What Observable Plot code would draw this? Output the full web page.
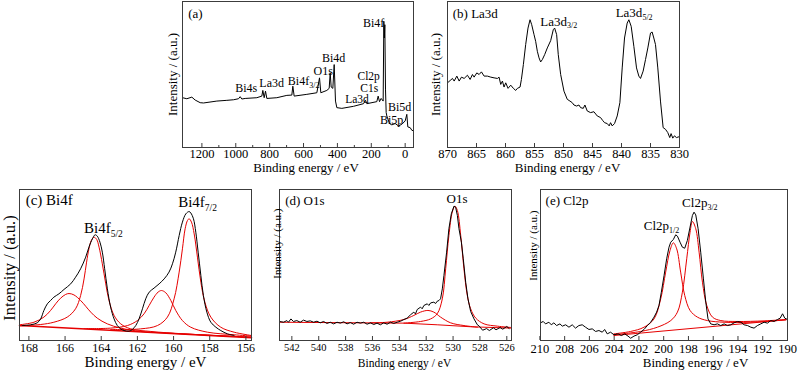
<!DOCTYPE html>
<html><head><meta charset="utf-8">
<script src="https://cdn.jsdelivr.net/npm/d3@7"></script>
<script src="https://cdn.jsdelivr.net/npm/@observablehq/plot@0.6"></script>
<style>
body{margin:0;background:#fff;}
#wrap{position:relative;width:800px;height:374px;overflow:hidden;background:#fff;}
#wrap>div{position:absolute;}
#wrap svg{overflow:visible;background:transparent;font-family:"Liberation Serif","Times New Roman",serif !important;}
#wrap svg text, #wrap svg tspan{font-family:"Liberation Serif","Times New Roman",serif !important;font-weight:normal;}
</style></head><body><div id="wrap"></div>
<script>
// ---------- (a) survey ----------
const surveySpectrum = [[1314.5,34.1],[1288.9,33.4],[1259.3,34.5],[1239.7,32.5],[1210.2,30.7],[1190.5,30.5],[1111.8,31.8],[1052.7,32.3],[1013.4,32.7],[983.9,33.4],[974.0,34.8],[964.2,33.2],[944.5,33.6],[875.6,34.1],[846.1,35.2],[840.2,39.1],[832.3,34.1],[824.5,38.6],[816.6,33.6],[757.6,34.1],[698.5,35.7],[669.0,35.9],[663.1,42.0],[655.3,35.2],[580.5,36.4],[521.4,37.5],[505.7,47.7],[497.8,37.5],[462.4,39.1],[448.6,40.5],[442.7,51.1],[436.8,41.4],[427.0,40.5],[419.1,56.8],[411.3,31.8],[403.4,27.3],[373.9,26.8],[305.0,28.2],[246.0,30.0],[234.2,32.3],[226.3,30.0],[167.3,31.4],[159.4,35.2],[151.5,31.4],[141.7,33.6],[129.9,31.8],[125.9,86.4],[123.0,75.0],[120.0,84.1],[116.1,40.0],[112.2,24.0],[108.2,21.6],[92.5,16.4],[78.7,15.5],[59.0,16.4],[39.4,14.8],[19.7,15.9],[0,18.2],[-9.8,22.7],[-15.7,14.1],[-29.5,13.6],[-39.4,11.8],[-49.2,11.4]];
const surveyTicks = [1200,1000,800,600,400,200,0];
const surveyMinor = [1100,900,700,500,300,100];
const surveyLabels = [{t:"(a)",x:1281,y:91.4,a:"start",f:13},{t:"Bi4s",x:938.6,y:40.8},{t:"La3d",x:788,y:44.2},{t:"O1s",x:484,y:52.4},{t:"Bi4d",x:422,y:61.2},{t:"Bi4f",x:186,y:85},{t:"Cl2p",x:215.5,y:48.6,f:11.5},{t:"C1s",x:212.5,y:40.2,f:11.5},{t:"La3d",x:284,y:33.2,f:11.5},{t:"Bi5d",x:32.5,y:27.9},{t:"Bi5p",x:79.7,y:19}];
const surveySubLabels = [{t:"Bi4f",s:"3/2",x:566.7,y:45.6}];

// ---------- (b) La3d ----------
const la3dSpectrum = [[870.0,44.3],[869.54,45.9],[869.14,47.3],[868.85,45.5],[868.39,48.9],[867.99,45.5],[867.59,48.2],[867.13,47.3],[866.56,49.5],[866.10,46.6],[865.70,50.0],[865.41,48.2],[864.95,51.1],[864.55,50.0],[864.15,51.8],[863.69,48.9],[863.12,48.9],[862.54,48.2],[861.97,47.7],[861.39,47.3],[861.11,48.2],[860.82,43.2],[860.53,45.5],[860.25,41.4],[859.96,44.3],[859.56,40.5],[859.10,42.7],[858.64,40.5],[858.24,39.1],[857.95,40.5],[857.49,41.4],[857.26,46.6],[856.92,56.8],[856.52,70.5],[856.12,81.8],[855.77,87.5],[855.48,84.1],[855.08,77.3],[854.80,72.7],[854.51,65.9],[854.22,61.4],[853.94,58.6],[853.65,60.2],[853.25,63.6],[852.79,68.2],[852.21,73.2],[851.76,80.7],[851.53,81.8],[851.18,77.3],[850.90,63.6],[850.49,50.0],[849.92,38.6],[849.35,33.0],[848.89,31.8],[848.49,30.7],[848.20,29.1],[847.74,28.4],[847.34,29.1],[847.05,27.3],[846.59,26.8],[846.31,29.1],[845.90,25.0],[845.33,23.9],[844.76,24.5],[844.18,21.6],[843.61,20.5],[843.26,18.6],[842.92,17.0],[842.46,16.4],[842.12,14.8],[841.89,17.0],[841.60,14.8],[841.20,16.4],[840.74,21.6],[840.28,30.7],[839.88,54.5],[839.48,75.0],[839.02,85.2],[838.73,87.5],[838.33,83.0],[837.87,69.3],[837.41,54.5],[837.01,48.9],[836.72,47.3],[836.27,52.3],[835.86,60.2],[835.46,68.2],[835.00,78.4],[834.72,79.1],[834.43,75.0],[834.14,70.5],[833.74,54.5],[833.28,31.8],[832.82,13.6],[832.42,12.5],[832.02,10.2],[831.68,6.8],[831.45,9.5],[831.16,6.4],[830.87,8.0],[830.53,6.8],[830.13,7.3]];
const la3dTicks = [870,865,860,855,850,845,840,835,830];
const la3dLabels = [{t:"(b) La3d",x:869.1,y:91.8,a:"start",f:13}];
const la3dSubLabels = [{t:"La3d",s:"3/2",x:849.4,y:86.4},{t:"La3d",s:"5/2",x:836.4,y:92.5}];

// ---------- (c) Bi4f ----------
const bi4fExp = [[168.37,9.9],[167.91,10.4],[167.54,11.7],[167.35,14.3],[167.17,19.9],[166.98,24.3],[166.80,26.5],[166.62,28.7],[166.34,30.9],[166.06,33.8],[165.69,37.5],[165.42,41.9],[165.14,47.5],[164.86,55.2],[164.68,61.8],[164.49,67.3],[164.34,70.0],[164.22,69.1],[164.07,65.1],[163.94,58.5],[163.81,47.5],[163.66,34.2],[163.48,22.1],[163.29,14.3],[163.11,9.9],[162.92,7.7],[162.74,6.6],[162.46,6.2],[162.28,7.3],[162.09,9.9],[161.91,14.3],[161.72,21.0],[161.54,27.6],[161.35,32.0],[161.08,34.7],[160.80,37.5],[160.52,40.8],[160.25,45.3],[160.06,50.8],[159.88,58.5],[159.69,69.5],[159.51,78.4],[159.32,83.9],[159.14,85.4],[159.05,84.5],[158.90,80.6],[158.77,71.7],[158.64,58.5],[158.49,43.0],[158.35,29.8],[158.16,18.8],[157.94,12.1],[157.66,8.8],[157.39,6.6],[157.02,4.4],[156.65,3.3]];
const bi4fBackground = [[168.52,9.9],[155.69,1.8]];
const bi4fSat52 = [[168.52,10.4],[167.72,12.1],[167.17,15.5],[166.80,19.9],[166.52,24.3],[166.25,28.0],[165.97,30.5],[165.78,31.1],[165.51,30.2],[165.14,26.5],[164.86,22.7],[164.58,18.8],[164.22,14.8],[163.66,11.0],[162.92,8.2],[161.82,6.0],[160.34,4.9],[158.49,3.8],[155.69,2.2]];
const bi4fMain52 = [[168.52,9.7],[167.35,10.6],[166.62,12.1],[165.88,15.5],[165.42,21.0],[165.14,29.8],[164.95,40.8],[164.81,51.9],[164.68,60.7],[164.55,66.2],[164.40,68.4],[164.25,66.9],[164.12,61.8],[163.94,50.8],[163.75,37.5],[163.57,26.5],[163.29,16.6],[162.92,11.0],[162.37,7.7],[161.26,6.0],[159.42,4.4],[155.69,2.2]];
const bi4fSat72 = [[164.95,7.9],[163.48,8.2],[162.55,9.9],[162.00,13.2],[161.63,17.7],[161.35,23.2],[161.08,28.7],[160.86,32.0],[160.67,33.1],[160.43,31.6],[160.15,26.5],[159.88,19.9],[159.51,13.2],[159.05,8.8],[158.12,5.5],[156.65,3.8],[155.69,2.9]];
const bi4fMain72 = [[163.48,7.3],[161.82,7.7],[160.89,9.9],[160.34,15.5],[159.97,27.6],[159.69,45.3],[159.51,60.7],[159.36,74.0],[159.23,79.5],[159.14,80.6],[159.01,78.4],[158.86,70.6],[158.68,55.2],[158.49,38.6],[158.27,25.4],[157.94,15.5],[157.39,8.8],[156.65,5.5],[155.69,3.3]];
const bi4fTicks = [168,166,164,162,160,158,156];
const bi4fLabels = [{t:"(c) Bi4f",x:168.18,y:92.7,a:"start",f:15}];
const bi4fSubLabels = [{t:"Bi4f",s:"5/2",x:163.48,y:74.2},{t:"Bi4f",s:"7/2",x:158.27,y:91.4}];

// ---------- (d) O1s ----------
const o1sExp = [[542.92,12.6],[542.62,12.1],[542.37,13.2],[542.25,12.1],[542.07,14.3],[541.88,12.6],[541.63,13.2],[541.38,12.1],[541.13,13.5],[540.88,12.6],[540.63,13.0],[540.38,12.1],[540.13,12.8],[539.89,11.7],[539.64,12.6],[539.39,11.3],[539.14,12.1],[538.89,11.0],[538.64,12.1],[538.39,11.5],[538.14,12.4],[537.89,11.0],[537.65,11.9],[537.40,10.8],[537.15,12.1],[536.90,11.5],[536.65,12.1],[536.40,10.8],[536.15,11.7],[535.90,10.6],[535.66,11.5],[535.41,10.4],[535.16,11.7],[534.91,10.8],[534.66,12.1],[534.41,11.3],[534.16,12.1],[533.90,12.8],[533.66,13.9],[533.42,14.8],[533.17,17.0],[532.92,18.8],[532.80,17.6],[532.67,20.5],[532.42,22.1],[532.30,21.0],[532.17,23.2],[531.92,24.3],[531.80,23.2],[531.67,24.9],[531.43,25.4],[531.30,24.5],[531.18,26.0],[531.05,26.5],[530.93,27.6],[530.80,34.2],[530.68,43.0],[530.48,58.5],[530.31,74.0],[530.13,83.9],[529.93,89.0],[529.81,88.3],[529.68,82.8],[529.56,74.0],[529.38,65.1],[529.24,54.1],[529.06,38.6],[528.89,27.6],[528.69,19.2],[528.44,14.3],[528.19,10.4],[528.05,9.5],[527.80,6.8],[527.50,7.9],[527.30,6.6],[527.00,8.4],[526.80,7.1],[526.50,8.6],[526.30,7.5],[526.00,9.3],[525.83,8.0]];
const o1sBackground = [[542.92,12.1],[533.66,11.5],[531.18,10.4],[528.69,9.1],[525.65,8.2]];
const o1sOH = [[536.15,11.7],[534.91,12.1],[533.66,13.9],[532.92,16.6],[532.42,18.8],[531.87,19.9],[531.43,18.8],[530.93,15.5],[530.18,11.7],[529.19,9.9],[528.19,8.8]];
const o1sLattice = [[533.66,11.5],[532.42,12.6],[531.67,14.3],[531.18,17.7],[530.80,27.6],[530.55,47.5],[530.31,69.5],[530.06,85.0],[529.86,89.0],[529.68,86.1],[529.43,69.5],[529.19,47.5],[528.94,29.8],[528.69,21.0],[528.31,14.8],[527.69,11.0],[526.70,9.5],[525.65,8.6]];
const o1sTicks = [542,540,538,536,534,532,530,528,526];
const o1sLabels = [{t:"(d) O1s",x:542.5,y:92.7,a:"start",f:13},{t:"O1s",x:529.7,y:94,f:13}];

// ---------- (e) Cl2p ----------
const cl2pExp = [[209.95,11.7],[209.73,12.6],[209.54,11.0],[209.27,12.1],[209.08,10.4],[208.87,11.7],[208.65,9.9],[208.38,11.0],[208.19,9.5],[207.92,10.4],[207.65,8.8],[207.39,10.4],[207.12,8.2],[206.85,9.9],[206.58,10.4],[206.31,8.8],[206.04,7.3],[205.77,7.7],[205.50,6.0],[205.23,6.6],[204.96,5.5],[204.77,7.3],[204.56,4.4],[204.29,5.5],[204.02,3.8],[203.69,4.4],[203.42,3.3],[203.15,4.4],[202.88,2.9],[202.67,1.5],[202.40,2.9],[202.13,3.8],[201.86,5.5],[201.59,7.3],[201.32,9.9],[201.05,12.1],[200.78,15.5],[200.57,18.8],[200.38,23.2],[200.19,32.0],[199.97,43.0],[199.76,54.1],[199.57,61.8],[199.43,65.1],[199.22,66.9],[199.03,70.0],[198.89,69.1],[198.68,65.1],[198.49,61.8],[198.30,61.1],[198.09,66.2],[197.87,75.1],[197.68,82.8],[197.55,85.0],[197.41,83.2],[197.22,74.0],[197.01,58.5],[196.79,40.8],[196.60,25.4],[196.42,14.3],[196.20,11.0],[195.93,10.4],[195.66,11.0],[195.39,9.9],[195.12,11.0],[194.85,9.9],[194.58,10.4],[194.31,11.7],[194.04,12.6],[193.77,12.1],[193.50,10.4],[193.23,9.9],[192.96,8.8],[192.70,8.2],[192.43,9.9],[192.16,11.0],[191.89,12.1],[191.62,11.5],[191.35,13.2],[191.08,12.6],[190.81,13.9],[190.59,14.8],[190.40,17.7],[190.22,14.8],[190.00,13.9]];
const cl2pBackground = [[204.02,3.3],[190.13,13.7]];
const cl2p12 = [[204.02,4.4],[202.67,6.0],[201.59,8.8],[200.78,14.3],[200.24,27.6],[199.84,45.3],[199.49,59.6],[199.22,64.7],[198.95,60.7],[198.63,45.3],[198.30,29.8],[197.87,19.9],[197.28,15.5],[196.47,13.2],[195.12,12.1],[192.96,12.1],[190.13,13.7]];
const cl2p32 = [[204.02,3.8],[201.86,6.0],[200.51,8.8],[199.43,13.2],[198.89,18.8],[198.49,32.0],[198.14,54.1],[197.87,71.7],[197.68,78.8],[197.41,74.0],[197.14,58.5],[196.87,38.6],[196.52,23.2],[196.06,15.5],[195.39,13.2],[194.04,12.6],[191.89,13.0],[190.13,13.9]];
const cl2pTicks = [210,208,206,204,202,200,198,196,194,192,190];
const cl2pLabels = [{t:"(e) Cl2p",x:209.54,y:92.7,a:"start",f:13}];
const cl2pSubLabels = [{t:"Cl2p",s:"1/2",x:199.57,y:76.2},{t:"Cl2p",s:"3/2",x:196.47,y:91.2}];

// ---------- drawing ----------
const FONT = '"Liberation Serif","Times New Roman",serif';
const BLACK = "#000", RED = "#e60000", FRAME = "#3c3c3c";

function panel(c) {
  const fh = c.h - c.mt - c.mb;
  const X = d => d[0], Y = d => d[1];
  const marks = [];
  for (const l of c.lines) marks.push(Plot.line(l.data, {x: X, y: Y, stroke: l.stroke, strokeWidth: l.sw || 1, curve: l.curve || "linear"}));
  marks.push(Plot.frame({stroke: FRAME, strokeWidth: 1}));
  marks.push(Plot.tickX(c.ticks, {x: d => d, insetTop: fh - 4, stroke: FRAME}));
  if (c.minor) marks.push(Plot.tickX(c.minor, {x: d => d, insetTop: fh - 2, stroke: FRAME}));
  marks.push(Plot.axisX(c.ticks, {tickSize: 0, tickPadding: c.tp, tickFormat: d => String(d), fontSize: c.tf, label: null, fill: "#000"}));
  marks.push(Plot.text(["Binding energy / eV"], {text: d => d, frameAnchor: "bottom", dx: c.tdx, dy: c.tdy, fontSize: c.tsf, fill: "#000"}));
  marks.push(Plot.text(["Intensity / (a.u.)"], {text: d => d, frameAnchor: c.yAnchor, textAnchor: c.yTA, rotate: -90, dx: c.ydx, dy: c.ydy, fontSize: c.ysf, fill: "#000"}));
  for (const L of (c.labels || [])) {
    marks.push(Plot.text([L], {x: "x", y: "y", text: "t", textAnchor: L.a || "middle", fontSize: L.f || c.af, fill: "#000"}));
  }
  for (const L of (c.subs || [])) {
    marks.push(Plot.text([L], {x: "x", y: "y", text: "t", textAnchor: "end", fontSize: c.af, fill: "#000"}));
    marks.push(Plot.text([L], {x: "x", y: "y", text: "s", textAnchor: "start", fontSize: c.sf, dy: c.sdy, fill: "#000"}));
  }
  const svg = Plot.plot({
    width: c.w, height: c.h,
    marginLeft: c.ml, marginRight: c.mr, marginTop: c.mt, marginBottom: c.mb,
    x: {domain: c.domain},
    y: {domain: [0, 100], axis: null},
    style: {fontFamily: FONT, background: "transparent", color: "#000", overflow: "visible"},
    marks
  });
  const div = document.createElement("div");
  div.style.left = c.left + "px"; div.style.top = c.top + "px";
  div.style.width = c.w + "px"; div.style.height = c.h + "px";
  div.appendChild(svg);
  document.getElementById("wrap").appendChild(div);
}

panel({left:150, top:0, w:270, h:180, ml:32, mr:7, mt:1, mb:33, domain:[1314.5,-49.2],
  lines:[{data: surveySpectrum, stroke: BLACK}],
  ticks: surveyTicks, minor: surveyMinor, tp:2, tf:12.5,
  tdx:8, tdy:24.5, tsf:13, yAnchor:"left", yTA:"middle", ydx:-10, ydy:0, ysf:13,
  labels: surveyLabels, subs: surveySubLabels, af:12, sf:8, sdy:4.5});

panel({left:420, top:0, w:270, h:180, ml:27, mr:11, mt:1, mb:33, domain:[870,830],
  lines:[{data: la3dSpectrum, stroke: BLACK}],
  ticks: la3dTicks, tp:2, tf:12.5,
  tdx:4, tdy:24.5, tsf:13, yAnchor:"left", yTA:"middle", ydx:-12, ydy:0, ysf:13,
  labels: la3dLabels, subs: la3dSubLabels, af:13, sf:8, sdy:4.5});

panel({left:0, top:185, w:262, h:189, ml:19, mr:11, mt:4, mb:34, domain:[168.52,155.69],
  lines:[{data: bi4fBackground, stroke: RED, sw:1.6},
         {data: bi4fSat52, stroke: RED, curve:"catmull-rom"},
         {data: bi4fMain52, stroke: RED, curve:"catmull-rom"},
         {data: bi4fSat72, stroke: RED, curve:"catmull-rom"},
         {data: bi4fMain72, stroke: RED, curve:"catmull-rom"},
         {data: bi4fExp, stroke: BLACK, curve:"catmull-rom"}],
  ticks: bi4fTicks, tp:3, tf:12,
  tdx:10, tdy:26.5, tsf:15, yAnchor:"left", yTA:"middle", ydx:-10, ydy:3, ysf:16.5,
  labels: bi4fLabels, subs: bi4fSubLabels, af:15, sf:9.5, sdy:5.4});

panel({left:262, top:185, w:258, h:189, ml:17, mr:9, mt:4, mb:34, domain:[542.92,525.65],
  lines:[{data: o1sBackground, stroke: RED},
         {data: o1sOH, stroke: RED, curve:"catmull-rom"},
         {data: o1sLattice, stroke: RED, curve:"catmull-rom"},
         {data: o1sExp, stroke: BLACK}],
  ticks: o1sTicks, tp:3, tf:10.5,
  tdx:9, tdy:26.5, tsf:11.5, yAnchor:"top-left", yTA:"end", ydx:-6, ydy:19, ysf:11,
  labels: o1sLabels, af:13});

panel({left:520, top:185, w:280, h:189, ml:20, mr:13, mt:4, mb:34, domain:[209.95,190],
  lines:[{data: cl2pBackground, stroke: RED},
         {data: cl2p12, stroke: RED, curve:"catmull-rom"},
         {data: cl2p32, stroke: RED, curve:"catmull-rom"},
         {data: cl2pExp, stroke: BLACK}],
  ticks: cl2pTicks, tp:4, tf:12.5,
  tdx:31.5, tdy:26.5, tsf:13, yAnchor:"top-left", yTA:"end", ydx:-11, ydy:21, ysf:11,
  labels: cl2pLabels, subs: cl2pSubLabels, af:13, sf:8, sdy:4.8});
</script></body></html>
